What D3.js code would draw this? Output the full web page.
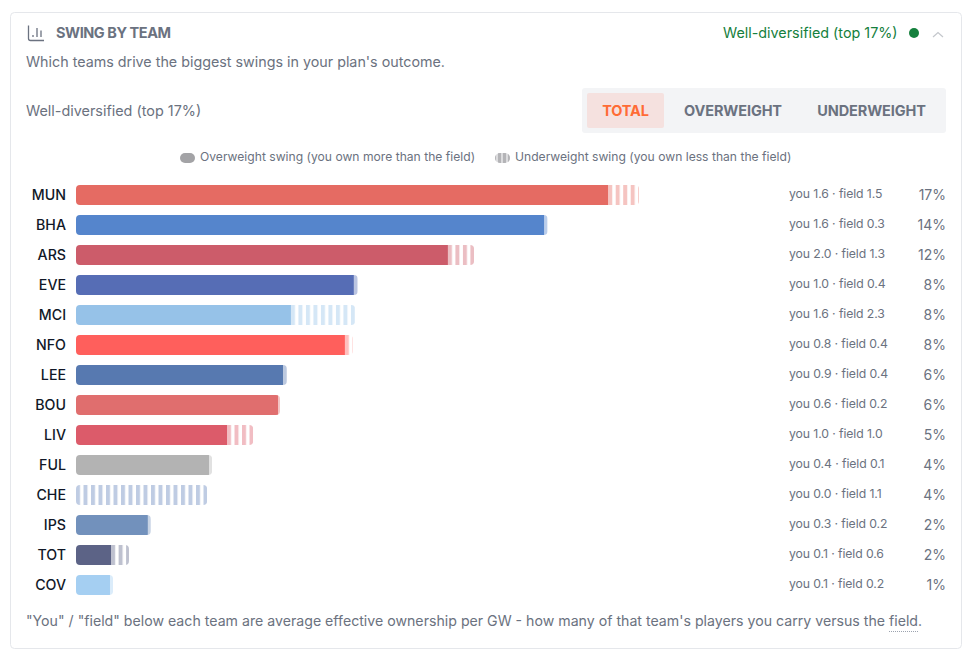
<!DOCTYPE html>
<html>
<head>
<meta charset="utf-8">
<script src="https://d3js.org/d3.v7.min.js"></script>
<style>
  html, body { margin: 0; padding: 0; background: #fff; }
  svg { display: block; }
  text { font-family: Inter, "Noto Sans", sans-serif; }
</style>
</head>
<body>
<svg id="chart" width="974" height="657"></svg>
<script>
const teams = ["MUN", "BHA", "ARS", "EVE", "MCI", "NFO", "LEE", "BOU", "LIV", "FUL", "CHE", "IPS", "TOT", "COV"];
// swing split into overweight + underweight, in the same units as the % column
const overweight = [16.07, 14.14, 11.23, 8.39, 6.49, 8.12, 6.25, 6.10, 4.56, 4.02, 0, 2.17, 1.06, 1.03];
const underweight = [0.93, 0.10, 0.79, 0.12, 1.94, 0.24, 0.12, 0.06, 0.79, 0.09, 3.96, 0.09, 0.54, 0.09];
const youOwn = ["1.6", "1.6", "2.0", "1.0", "1.6", "0.8", "0.9", "0.6", "1.0", "0.4", "0.0", "0.3", "0.1", "0.1"];
const fieldOwn = ["1.5", "0.3", "1.3", "0.4", "2.3", "0.4", "0.4", "0.2", "1.0", "0.1", "1.1", "0.2", "0.6", "0.2"];
const shares = ["17%", "14%", "12%", "8%", "8%", "8%", "6%", "6%", "5%", "4%", "4%", "2%", "2%", "1%"];
const teamColors = ["#E56B63", "#5585CC", "#CC5C6A", "#566DB5", "#96C2E8", "#FF5F5C", "#5779B0", "#E06E6E", "#DC5B6A", "#B3B3B3", "#5F7FB9", "#7291BC", "#5C6386", "#A5CFF2"];
const tabs = ["TOTAL", "OVERWEIGHT", "UNDERWEIGHT"];

const grey = "#6b7280";
const svg = d3.select("#chart");
const defs = svg.append("defs");

const x = d3.scaleLinear().domain([0, 17]).range([76, 639]);
const y = d3.scaleBand().domain(teams).range([180, 600]).paddingInner(1 / 3).paddingOuter(1 / 6);

const rows = teams.map((team, i) => ({
  team, i,
  over: overweight[i],
  under: underweight[i],
  color: teamColors[i]
}));

function stripes(id, color, startX) {
  const p = defs.append("pattern")
    .attr("id", id)
    .attr("patternUnits", "userSpaceOnUse")
    .attr("x", startX).attr("y", 0)
    .attr("width", 7.5).attr("height", 20);
  p.append("rect")
    .attr("width", 4).attr("height", 20)
    .attr("fill", color).attr("fill-opacity", 0.4);
}

function label(txt, px, py, size, color, opts = {}) {
  return svg.append("text")
    .attr("x", px).attr("y", py)
    .attr("font-size", size)
    .attr("fill", color)
    .attr("font-weight", opts.weight || 400)
    .attr("letter-spacing", opts.spacing || 0)
    .attr("text-anchor", opts.anchor || "start")
    .text(txt);
}

// card
svg.append("rect")
  .attr("x", 10.5).attr("y", 12.5)
  .attr("width", 951).attr("height", 636)
  .attr("rx", 4)
  .attr("fill", "#fff").attr("stroke", "#e5e7eb");

// header icon
const icon = svg.append("g").attr("stroke", grey).attr("stroke-width", 1.3).attr("fill", "none");
icon.append("path").attr("d", "M28.5 25.5V38.5Q28.5 40.5 30.5 40.5H44");
icon.append("path").attr("d", "M33 37V35M37 37V28M41 37V30.5");

label("SWING BY TEAM", 56, 38, 14.5, grey, { weight: 700, spacing: -0.45 });
label("Well-diversified (top 17%)", 723, 38, 14.35, "#15803d");
svg.append("circle").attr("cx", 914).attr("cy", 33).attr("r", 5).attr("fill", "#15803d");
svg.append("path").attr("d", "M933 37L938 32.5L943 37")
  .attr("fill", "none").attr("stroke", "#c4c7cc").attr("stroke-width", 1.2);

label("Which teams drive the biggest swings in your plan's outcome.", 26, 67, 14.3, grey);
label("Well-diversified (top 17%)", 26, 116, 14.4, grey);

// tabs
svg.append("rect").attr("x", 582).attr("y", 88).attr("width", 364).attr("height", 45).attr("rx", 3).attr("fill", "#f3f4f6");
svg.append("rect").attr("x", 587).attr("y", 93).attr("width", 77).attr("height", 35).attr("rx", 2).attr("fill", "#f5e1df");
const tabX = [625.5, 733, 871.5];
tabs.forEach((t, i) => {
  label(t, tabX[i], 116, 14.5, i === 0 ? "#ff6b35" : grey, { weight: 700, anchor: "middle", spacing: -0.12 });
});

// legend
svg.append("rect").attr("x", 180).attr("y", 153).attr("width", 15).attr("height", 10).attr("rx", 5).attr("fill", "#a3a3a6");
label("Overweight swing (you own more than the field)", 200, 161, 12.13, grey);
svg.append("rect").attr("x", 495).attr("y", 153).attr("width", 15).attr("height", 10).attr("rx", 5).attr("fill", "#dcdcde");
defs.append("pattern")
  .attr("id", "legend-stripes")
  .attr("patternUnits", "userSpaceOnUse")
  .attr("x", 498).attr("y", 0)
  .attr("width", 5).attr("height", 10)
  .append("rect").attr("width", 3).attr("height", 10).attr("fill", "#b4b4b7");
svg.append("rect").attr("x", 495).attr("y", 153).attr("width", 15).attr("height", 10).attr("rx", 5).attr("fill", "url(#legend-stripes)");
label("Underweight swing (you own less than the field)", 515, 161, 12.13, grey);

// team labels
const axis = svg.append("g")
  .attr("transform", "translate(66,0)")
  .call(d3.axisLeft(y).tickSize(0).tickPadding(0));
axis.select(".domain").remove();
axis.selectAll("text")
  .attr("font-family", "Inter, sans-serif")
  .attr("font-size", 14.2)
  .attr("font-weight", 500)
  .attr("fill", "#111827");

// bars
const bars = svg.append("g").selectAll("g").data(rows).enter().append("g");

bars.each(function(d) {
  const startX = x(d.over);
  const endX = x(d.over + d.under);
  defs.append("clipPath").attr("id", `clip-${d.team}`)
    .append("rect")
    .attr("x", x(0)).attr("y", y(d.team))
    .attr("width", endX - x(0)).attr("height", y.bandwidth())
    .attr("rx", 4);
  stripes(`stripes-${d.team}`, d.color, startX);

  const g = d3.select(this).attr("clip-path", `url(#clip-${d.team})`);
  g.append("rect")
    .attr("x", x(0)).attr("y", y(d.team))
    .attr("width", startX - x(0)).attr("height", y.bandwidth())
    .attr("fill", d.color);
  g.append("rect")
    .attr("x", startX).attr("y", y(d.team))
    .attr("width", endX - startX).attr("height", y.bandwidth())
    .attr("fill", `url(#stripes-${d.team})`);
});

// right-hand columns
rows.forEach(d => {
  const cy = y(d.team) + y.bandwidth() / 2;
  label(`you ${youOwn[d.i]} · field ${fieldOwn[d.i]}`, 789, cy + 3, 12.25, grey, { spacing: -0.1 });
  label(shares[d.i], 946, cy + 5, 14, grey, { anchor: "end" });
});

// footnote
label("\"You\" / \"field\" below each team are average effective ownership per GW - how many of that team's players you carry versus the field.", 26, 626, 14.16, grey);
svg.append("line")
  .attr("x1", 889).attr("x2", 918).attr("y1", 631.5).attr("y2", 631.5)
  .attr("stroke", "#9ca3af").attr("stroke-dasharray", "1,1");
</script>
</body>
</html>
